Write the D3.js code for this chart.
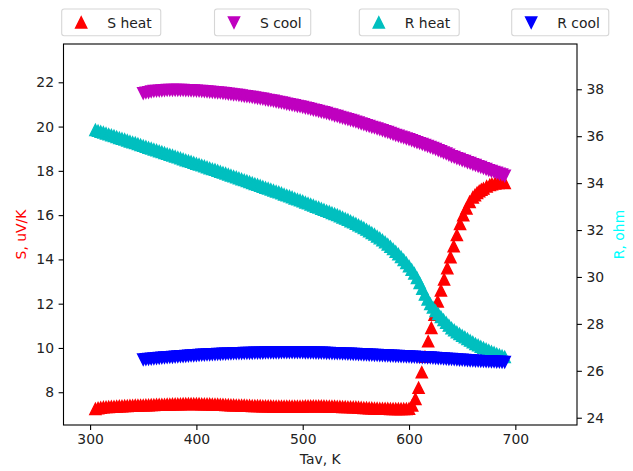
<!DOCTYPE html>
<html><head><meta charset="utf-8">
<script src="https://cdn.jsdelivr.net/npm/d3@7/dist/d3.min.js"></script>
<style>body{margin:0;background:#fff}svg{display:block}text{font-family:"DejaVu Sans",sans-serif}</style>
</head><body>
<script>
// ---------- data ----------
const xTicks = [300, 400, 500, 600, 700];
const sTicks = [8, 10, 12, 14, 16, 18, 20, 22];
const rTicks = [24, 26, 28, 30, 32, 34, 36, 38];
const legendLabels = ["S heat", "S cool", "R heat", "R cool"];

// S heat: [Tav, S]
const sHeat = [
[305,7.25],[307.5,7.28],[310,7.30],[312.5,7.32],[315,7.33],[317.5,7.34],[320,7.35],[322.5,7.35],[325,7.36],[327.5,7.37],
[330,7.37],[332.5,7.38],[335,7.38],[337.5,7.39],[340,7.39],[342.5,7.40],[345,7.40],[347.5,7.41],[350,7.41],[352.5,7.42],
[355,7.42],[357.5,7.43],[360,7.43],[362.5,7.44],[365,7.44],[367.5,7.44],[370,7.44],[372.5,7.45],[375,7.45],[377.5,7.46],
[380,7.46],[382.5,7.46],[385,7.46],[387.5,7.47],[390,7.47],[392.5,7.47],[395,7.47],[397.5,7.47],[400,7.47],[402.5,7.47],
[405,7.46],[407.5,7.46],[410,7.46],[412.5,7.46],[415,7.45],[417.5,7.45],[420,7.45],[422.5,7.44],[425,7.44],[427.5,7.43],
[430,7.43],[432.5,7.42],[435,7.42],[437.5,7.41],[440,7.41],[442.5,7.40],[445,7.40],[447.5,7.39],[450,7.39],[452.5,7.38],
[455,7.38],[457.5,7.38],[460,7.38],[462.5,7.37],[465,7.37],[467.5,7.37],[470,7.37],[472.5,7.36],[475,7.36],[477.5,7.36],
[480,7.36],[482.5,7.36],[485,7.36],[487.5,7.36],[490,7.36],[492.5,7.36],[495,7.36],[497.5,7.36],[500,7.36],[502.5,7.37],
[505,7.37],[507.5,7.37],[510,7.37],[512.5,7.37],[515,7.37],[517.5,7.37],[520,7.37],[522.5,7.36],[525,7.36],[527.5,7.36],
[530,7.36],[532.5,7.35],[535,7.35],[537.5,7.34],[540,7.34],[542.5,7.33],[545,7.33],[547.5,7.32],[550,7.32],[552.5,7.31],
[555,7.30],[557.5,7.29],[560,7.29],[562.5,7.28],[565,7.28],[567.5,7.27],[570,7.27],[572.5,7.26],[575,7.26],[577.5,7.26],
[580,7.26],[582.5,7.25],[585,7.25],[587.5,7.25],[590,7.25],[592.5,7.25],[595,7.25],[597.5,7.25],[600,7.26],
[603,7.4],[606,7.7],[609,8.2],[612,8.9],[615,9.6],[618,10.3],[621,10.9],[624,11.5],[627,12.1],[630,12.6],
[633,13.1],[636,13.6],[639,14.1],[642,14.6],[645,15.1],[648,15.6],[651,16.0],[654,16.3],[657,16.6],[660,16.8],
[662,16.9],[664,17.0],[666,17.08],[668,17.15],[670,17.2],[673,17.3],[676,17.36],[678,17.4],[681,17.43],[684,17.45],[687,17.46],[690,17.45]
];
// S cool: [Tav, S]
const sCool = [
[350,21.50],[352.5,21.53],[355,21.55],[357.5,21.58],[360,21.60],[362.5,21.61],[365,21.62],[367.5,21.63],[370,21.64],[372.5,21.65],
[375,21.65],[377.5,21.65],[380,21.65],[382.5,21.65],[385,21.65],[387.5,21.65],[390,21.64],[392.5,21.64],[395,21.63],[397.5,21.63],
[400,21.62],[402.5,21.61],[405,21.60],[407.5,21.59],[410,21.58],[412.5,21.57],[415,21.56],[417.5,21.55],[420,21.54],[422.5,21.53],
[425,21.51],[427.5,21.50],[430,21.48],[432.5,21.47],[435,21.45],[437.5,21.44],[440,21.42],[442.5,21.40],[445,21.38],[447.5,21.37],
[450,21.35],[452.5,21.33],[455,21.31],[457.5,21.29],[460,21.27],[462.5,21.25],[465,21.22],[467.5,21.20],[470,21.18],[472.5,21.16],
[475,21.13],[477.5,21.11],[480,21.08],[482.5,21.06],[485,21.03],[487.5,21.01],[490,20.98],[492.5,20.96],[495,20.93],[497.5,20.91],
[500,20.88],[502.5,20.85],[505,20.82],[507.5,20.79],[510,20.76],[512.5,20.73],[515,20.70],[517.5,20.67],[520,20.64],[522.5,20.61],
[525,20.57],[527.5,20.54],[530,20.50],[532.5,20.47],[535,20.43],[537.5,20.40],[540,20.36],[542.5,20.33],[545,20.29],[547.5,20.26],
[550,20.22],[552.5,20.18],[555,20.14],[557.5,20.10],[560,20.06],[562.5,20.02],[565,19.98],[567.5,19.95],[570,19.91],[572.5,19.87],
[575,19.83],[577.5,19.79],[580,19.75],[582.5,19.71],[585,19.66],[587.5,19.62],[590,19.58],[592.5,19.54],[595,19.50],[597.5,19.46],
[600,19.42],[602.5,19.38],[605,19.33],[607.5,19.29],[610,19.25],[612.5,19.21],[615,19.16],[617.5,19.12],[620,19.07],[622.5,19.03],
[625,18.98],[627.5,18.93],[630,18.88],[632.5,18.83],[635,18.78],[637.5,18.72],[640,18.66],[642.5,18.62],[645,18.57],[647.5,18.53],
[650,18.48],[652.5,18.44],[655,18.39],[657.5,18.35],[660,18.30],[662.5,18.26],[665,18.21],[667.5,18.17],[670,18.12],[672.5,18.08],
[675,18.03],[677.5,17.99],[680,17.95],[682.5,17.91],[685,17.87],[687.5,17.83],[690,17.78]
];
// R heat: [Tav, R]
const rHeat = [
[305,36.27],[307.5,36.23],[310,36.19],[312.5,36.16],[315,36.12],[317.5,36.08],[320,36.04],[322.5,36.01],[325,35.97],[327.5,35.93],
[330,35.89],[332.5,35.86],[335,35.82],[337.5,35.78],[340,35.74],[342.5,35.71],[345,35.67],[347.5,35.63],[350,35.59],[352.5,35.55],
[355,35.51],[357.5,35.48],[360,35.44],[362.5,35.40],[365,35.36],[367.5,35.33],[370,35.29],[372.5,35.25],[375,35.21],[377.5,35.18],
[380,35.14],[382.5,35.10],[385,35.06],[387.5,35.02],[390,34.98],[392.5,34.95],[395,34.91],[397.5,34.87],[400,34.83],[402.5,34.80],
[405,34.76],[407.5,34.72],[410,34.68],[412.5,34.64],[415,34.60],[417.5,34.57],[420,34.53],[422.5,34.49],[425,34.45],[427.5,34.41],
[430,34.37],[432.5,34.33],[435,34.29],[437.5,34.25],[440,34.21],[442.5,34.17],[445,34.13],[447.5,34.09],[450,34.05],[452.5,34.01],
[455,33.97],[457.5,33.93],[460,33.89],[462.5,33.85],[465,33.81],[467.5,33.77],[470,33.73],[472.5,33.69],[475,33.65],[477.5,33.61],
[480,33.57],[482.5,33.52],[485,33.48],[487.5,33.44],[490,33.40],[492.5,33.35],[495,33.31],[497.5,33.27],[500,33.23],[502.5,33.18],
[505,33.14],[507.5,33.09],[510,33.05],[512.5,33.00],[515,32.96],[517.5,32.91],[520,32.87],[522.5,32.82],[525,32.78],[527.5,32.73],
[530,32.69],[532.5,32.64],[535,32.59],[537.5,32.54],[540,32.49],[542.5,32.44],[545,32.38],[547.5,32.33],[550,32.27],[552.5,32.21],
[555,32.15],[557.5,32.09],[560,32.02],[562.5,31.95],[565,31.88],[567.5,31.81],[570,31.73],[572.5,31.65],[575,31.57],[577.5,31.48],
[580,31.39],[582.5,31.29],[585,31.19],[587.5,31.08],[590,30.97],[592.5,30.85],[595,30.73],[597.5,30.60],[600,30.46],[602.5,30.31],
[605,30.15],[607.5,29.96],[610,29.75],[612.5,29.50],[615,29.25],[617.5,29.04],[620,28.85],[622.5,28.70],[625,28.55],[627.5,28.42],
[630,28.30],[632.5,28.17],[635,28.05],[637.5,27.93],[640,27.82],[642.5,27.73],[645,27.65],[647.5,27.57],[650,27.50],[652.5,27.43],
[655,27.36],[657.5,27.29],[660,27.22],[662.5,27.15],[665,27.09],[667.5,27.03],[670,26.98],[672.5,26.92],[675,26.87],[677.5,26.82],
[680,26.77],[682.5,26.72],[685,26.68],[687.5,26.63],[690,26.59]
];
// R cool: [Tav, R]
const rCool = [
[350,26.48],[352.5,26.49],[355,26.50],[357.5,26.51],[360,26.52],[362.5,26.53],[365,26.54],[367.5,26.55],[370,26.56],[372.5,26.57],
[375,26.58],[377.5,26.59],[380,26.60],[382.5,26.61],[385,26.62],[387.5,26.62],[390,26.63],[392.5,26.64],[395,26.65],[397.5,26.65],
[400,26.66],[402.5,26.67],[405,26.68],[407.5,26.68],[410,26.69],[412.5,26.69],[415,26.70],[417.5,26.70],[420,26.71],[422.5,26.71],
[425,26.72],[427.5,26.72],[430,26.73],[432.5,26.73],[435,26.74],[437.5,26.74],[440,26.75],[442.5,26.75],[445,26.76],[447.5,26.76],
[450,26.76],[452.5,26.76],[455,26.77],[457.5,26.77],[460,26.77],[462.5,26.77],[465,26.78],[467.5,26.78],[470,26.78],[472.5,26.78],
[475,26.78],[477.5,26.78],[480,26.79],[482.5,26.79],[485,26.79],[487.5,26.79],[490,26.79],[492.5,26.79],[495,26.79],[497.5,26.79],
[500,26.79],[502.5,26.78],[505,26.78],[507.5,26.78],[510,26.78],[512.5,26.77],[515,26.77],[517.5,26.77],[520,26.77],[522.5,26.76],
[525,26.76],[527.5,26.75],[530,26.75],[532.5,26.74],[535,26.74],[537.5,26.73],[540,26.73],[542.5,26.72],[545,26.72],[547.5,26.71],
[550,26.71],[552.5,26.70],[555,26.70],[557.5,26.69],[560,26.69],[562.5,26.68],[565,26.68],[567.5,26.67],[570,26.67],[572.5,26.66],
[575,26.66],[577.5,26.65],[580,26.65],[582.5,26.64],[585,26.64],[587.5,26.63],[590,26.63],[592.5,26.62],[595,26.62],[597.5,26.61],
[600,26.61],[602.5,26.60],[605,26.60],[607.5,26.59],[610,26.58],[612.5,26.57],[615,26.57],[617.5,26.56],[620,26.56],[622.5,26.55],
[625,26.54],[627.5,26.53],[630,26.53],[632.5,26.52],[635,26.51],[637.5,26.50],[640,26.50],[642.5,26.49],[645,26.48],[647.5,26.47],
[650,26.47],[652.5,26.46],[655,26.45],[657.5,26.44],[660,26.44],[662.5,26.43],[665,26.42],[667.5,26.41],[670,26.41],[672.5,26.40],
[675,26.40],[677.5,26.39],[680,26.39],[682.5,26.38],[685,26.38],[687.5,26.37],[690,26.37]
];

// ---------- layout ----------
const W = 633, H = 471;
const L = 63.5, R = 577, T = 44, B = 425;
const FS = 13.9;
const svg = d3.select("body").append("svg").attr("width", W).attr("height", H);

const x = d3.scaleLinear().domain([275, 758]).range([L, R]);
const yS = d3.scaleLinear().domain([6.52, 23.73]).range([B, T]);
const yR = d3.scaleLinear().domain([23.69, 39.93]).range([B, T]);

const s = 5.6;
const up = `M0,${-s}L${-s},${s}L${s},${s}Z`;
const down = `M0,${s}L${-s},${-s}L${s},${-s}Z`;

const series = [
  {data: sHeat, y: yS, color: "#ff0000", path: up},
  {data: sCool, y: yS, color: "#bf00bf", path: down},
  {data: rHeat, y: yR, color: "#00bfbf", path: up},
  {data: rCool, y: yR, color: "#0000ff", path: down}
];

const plot = svg.append("g");
series.forEach(sr => {
  plot.append("g").selectAll("path").data(sr.data).join("path")
    .attr("d", sr.path)
    .attr("transform", d => `translate(${x(d[0])},${sr.y(d[1])})`)
    .attr("fill", sr.color).attr("stroke", sr.color).attr("stroke-width", 1.4)
    .attr("stroke-linejoin", "miter");
});

// frame
svg.append("rect").attr("x", L).attr("y", T).attr("width", R - L).attr("height", B - T)
  .attr("fill", "none").attr("stroke", "#000").attr("stroke-width", 1.1);

function styleAxis(g) {
  g.select(".domain").remove();
  g.selectAll(".tick line").attr("stroke", "#000").attr("stroke-width", 1.1);
  g.selectAll(".tick text").attr("fill", "#222").style("font-size", FS + "px")
    .style("font-family", "DejaVu Sans");
}
svg.append("g").attr("transform", `translate(0,${B})`)
  .call(d3.axisBottom(x).tickValues(xTicks).tickSize(4.9).tickPadding(4.2).tickFormat(d3.format("d")))
  .call(styleAxis);
svg.append("g").attr("transform", `translate(${L},0)`)
  .call(d3.axisLeft(yS).tickValues(sTicks).tickSize(4.9).tickPadding(4.6).tickFormat(d3.format("d")))
  .call(styleAxis);
svg.append("g").attr("transform", `translate(${R},0)`)
  .call(d3.axisRight(yR).tickValues(rTicks).tickSize(4.9).tickPadding(4.6).tickFormat(d3.format("d")))
  .call(styleAxis);

// axis labels
svg.append("text").attr("x", (L + R) / 2).attr("y", 463.5).attr("text-anchor", "middle")
  .style("font-size", FS + "px").attr("fill", "#222").text("Tav, K");
svg.append("text").attr("transform", `translate(26,${(T + B) / 2}) rotate(-90)`).attr("text-anchor", "middle")
  .style("font-size", FS + "px").attr("fill", "#ff0000").text("S, uV/K");
svg.append("text").attr("transform", `translate(623.5,${(T + B) / 2}) rotate(-90)`).attr("text-anchor", "middle")
  .style("font-size", FS + "px").attr("fill", "#00ffff").text("R, ohm");

// legends
const legLeft = [61.7, 214.5, 359.3, 511.7];
series.forEach((sr, i) => {
  const g = svg.append("g").attr("transform", `translate(${legLeft[i]},9)`);
  const rect = g.append("rect").attr("x", 0).attr("y", 0).attr("height", 26.7).attr("rx", 2.5)
    .attr("fill", "#fff").attr("stroke", "#d6d6d6").attr("stroke-width", 1.1);
  g.append("path").attr("d", sr.path).attr("transform", "translate(19.5,13.5)")
    .attr("fill", sr.color).attr("stroke", sr.color).attr("stroke-width", 1.4);
  const t = g.append("text").attr("x", 45.5).attr("y", 18.6).style("font-size", FS + "px")
    .attr("fill", "#222").text(legendLabels[i]);
  const w = t.node().getComputedTextLength();
  rect.attr("width", 45.5 + w + 9);
});
</script>
</body></html>
